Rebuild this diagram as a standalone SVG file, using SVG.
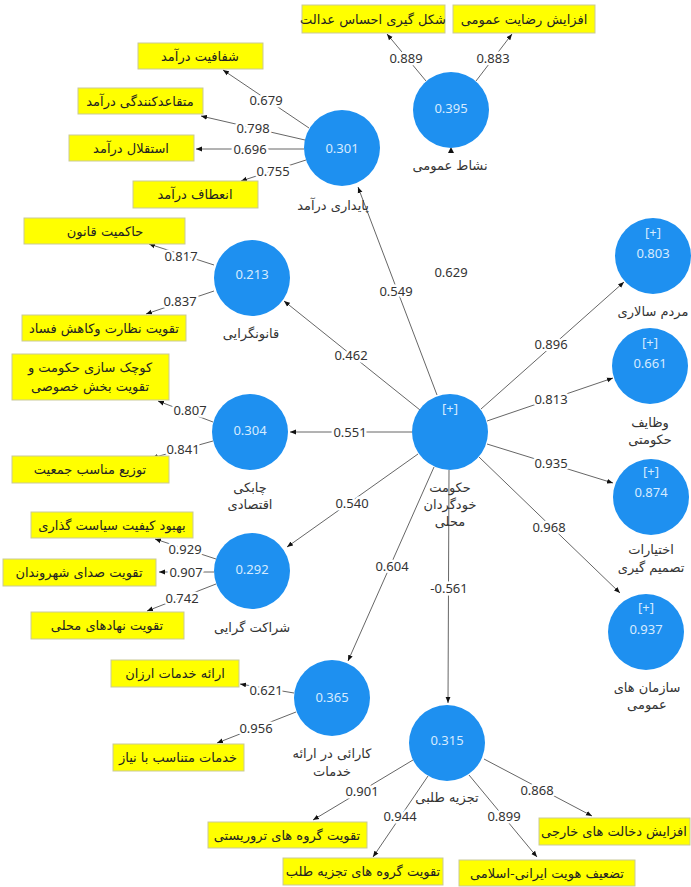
<svg xmlns="http://www.w3.org/2000/svg" width="691" height="887" viewBox="0 0 691 887">
<style>
.c{fill:#1e90f0}
.v{font-family:"Noto Sans","DejaVu Sans",sans-serif;font-size:13px;fill:#d6ebff;text-anchor:middle;dominant-baseline:central}
.b{fill:#ffff00;stroke:#c9c99a;stroke-width:1}
.bt{font-family:"DejaVu Sans",sans-serif;font-size:13px;fill:#222;text-anchor:middle;dominant-baseline:central;direction:rtl}
.nl{font-family:"DejaVu Sans",sans-serif;font-size:13px;fill:#333;text-anchor:middle;dominant-baseline:central;direction:rtl}
.ln{stroke:#555;stroke-width:0.9;fill:none;marker-end:url(#ah)}
.w{font-family:"Noto Sans","DejaVu Sans",sans-serif;font-size:13px;fill:#333;text-anchor:middle;dominant-baseline:central;paint-order:stroke;stroke:#fff;stroke-width:5px;stroke-linejoin:round}
</style>
<defs>
<marker id="ah" viewBox="0 0 10 10" refX="10" refY="5" markerWidth="6" markerHeight="6" markerUnits="userSpaceOnUse" orient="auto">
<path d="M0,1 L10,5 L0,9 Z" fill="#111"/>
</marker>
</defs>
<rect width="691" height="887" fill="#fff"/>

<g id="connectors">
<line class="ln" x1="437" y1="395" x2="358" y2="187"/>
<line class="ln" x1="420" y1="410" x2="284" y2="301"/>
<line class="ln" x1="412" y1="432" x2="290" y2="432"/>
<line class="ln" x1="418" y1="454" x2="287" y2="547"/>
<line class="ln" x1="434" y1="467" x2="348" y2="661"/>
<line class="ln" x1="449" y1="470" x2="448" y2="703"/>
<line class="ln" x1="481" y1="409" x2="624" y2="282"/>
<line class="ln" x1="487" y1="421" x2="613" y2="378"/>
<line class="ln" x1="487" y1="444" x2="613" y2="483"/>
<line class="ln" x1="479" y1="457" x2="620" y2="593"/>
<path d="M448,153 L451,147 L454,153 Z" fill="#111"/>

<line class="ln" x1="309" y1="128" x2="223" y2="70"/>
<line class="ln" x1="305" y1="140" x2="201" y2="116"/>
<line class="ln" x1="304" y1="149" x2="196" y2="149"/>
<line class="ln" x1="306" y1="160" x2="241" y2="181"/>
<line class="ln" x1="426" y1="81" x2="387" y2="34"/>
<line class="ln" x1="476" y1="81" x2="512" y2="34"/>
<line class="ln" x1="214" y1="265" x2="149" y2="244"/>
<line class="ln" x1="214" y1="291" x2="146" y2="314"/>
<line class="ln" x1="213" y1="422" x2="158" y2="401"/>
<line class="ln" x1="213" y1="441" x2="152" y2="458"/>
<line class="ln" x1="216" y1="559" x2="155" y2="539"/>
<line class="ln" x1="214" y1="572" x2="159" y2="572"/>
<line class="ln" x1="216" y1="584" x2="147" y2="611"/>
<line class="ln" x1="294" y1="693" x2="240" y2="684"/>
<line class="ln" x1="296" y1="712" x2="217" y2="743"/>
<line class="ln" x1="413" y1="760" x2="313" y2="820"/>
<line class="ln" x1="428" y1="776" x2="373" y2="857"/>
<line class="ln" x1="469" y1="775" x2="537" y2="857"/>
<line class="ln" x1="484" y1="759" x2="592" y2="816"/>

<text class="w" x="396" y="291">0.549</text>
<text class="w" x="451" y="272">0.629</text>
<text class="w" x="351" y="355">0.462</text>
<text class="w" x="350" y="432">0.551</text>
<text class="w" x="352" y="503">0.540</text>
<text class="w" x="392" y="566">0.604</text>
<text class="w" x="449" y="588">-0.561</text>
<text class="w" x="551" y="344">0.896</text>
<text class="w" x="551" y="399">0.813</text>
<text class="w" x="551" y="463">0.935</text>
<text class="w" x="549" y="527">0.968</text>
<text class="w" x="266" y="100">0.679</text>
<text class="w" x="253" y="128">0.798</text>
<text class="w" x="250" y="149">0.696</text>
<text class="w" x="273" y="171">0.755</text>
<text class="w" x="406" y="58">0.889</text>
<text class="w" x="493" y="58">0.883</text>
<text class="w" x="181" y="256">0.817</text>
<text class="w" x="180" y="301">0.837</text>
<text class="w" x="190" y="410">0.807</text>
<text class="w" x="183" y="449">0.841</text>
<text class="w" x="185" y="549">0.929</text>
<text class="w" x="186" y="572">0.907</text>
<text class="w" x="182" y="598">0.742</text>
<text class="w" x="266" y="690">0.621</text>
<text class="w" x="256" y="728">0.956</text>
<text class="w" x="362" y="791">0.901</text>
<text class="w" x="400" y="816">0.944</text>
<text class="w" x="504" y="816">0.899</text>
<text class="w" x="537" y="790">0.868</text>
</g>

<g id="n-central"><circle class="c" cx="450" cy="432" r="38"/><text class="v" x="450" y="408">[+]</text>
<text class="nl" x="450" y="487">حکومت</text><text class="nl" x="450" y="504">خودگردان</text><text class="nl" x="450" y="521">محلی</text></g>
<g id="n-paydari"><circle class="c" cx="342" cy="148" r="38"/><text class="v" x="342" y="148">0.301</text><text class="nl" x="333" y="205">پایداری درآمد</text></g>
<g id="n-neshat"><circle class="c" cx="451" cy="110" r="38"/><text class="v" x="451" y="108">0.395</text><text class="nl" x="450" y="165">نشاط عمومی</text></g>
<g id="n-ghanoon"><circle class="c" cx="252" cy="278" r="38"/><text class="v" x="252" y="274">0.213</text><text class="nl" x="251" y="333">قانونگرایی</text></g>
<g id="n-chaboki"><circle class="c" cx="250" cy="432" r="38"/><text class="v" x="250" y="430">0.304</text><text class="nl" x="250" y="487">چابکی</text><text class="nl" x="250" y="504">اقتصادی</text></g>
<g id="n-sherakat"><circle class="c" cx="252" cy="571" r="38"/><text class="v" x="252" y="569">0.292</text><text class="nl" x="252" y="627">شراکت گرایی</text></g>
<g id="n-karaei"><circle class="c" cx="332" cy="698" r="38"/><text class="v" x="332" y="697">0.365</text><text class="nl" x="332" y="753">کارائی در ارائه</text><text class="nl" x="332" y="771">خدمات</text></g>
<g id="n-tajzie"><circle class="c" cx="447" cy="743" r="38"/><text class="v" x="447" y="740">0.315</text><text class="nl" x="447" y="797">تجزیه طلبی</text></g>
<g id="n-mardom"><circle class="c" cx="653" cy="256" r="38"/><text class="v" x="653" y="232">[+]</text><text class="v" x="653" y="253">0.803</text><text class="nl" x="653" y="311">مردم سالاری</text></g>
<g id="n-vazayef"><circle class="c" cx="650" cy="366" r="38"/><text class="v" x="650" y="342">[+]</text><text class="v" x="650" y="363">0.661</text><text class="nl" x="650" y="422">وظایف</text><text class="nl" x="650" y="439">حکومتی</text></g>
<g id="n-ekhtiarat"><circle class="c" cx="651" cy="497" r="38"/><text class="v" x="651" y="471">[+]</text><text class="v" x="651" y="492">0.874</text><text class="nl" x="651" y="549">اختیارات</text><text class="nl" x="651" y="567">تصمیم گیری</text></g>
<g id="n-sazman"><circle class="c" cx="646" cy="632" r="38"/><text class="v" x="646" y="607">[+]</text><text class="v" x="646" y="629">0.937</text><text class="nl" x="647" y="687">سازمان های</text><text class="nl" x="647" y="704">عمومی</text></g>

<g id="i-shafafiat"><rect class="b" x="138" y="43" width="125" height="26"/><text class="bt" x="200" y="56">شفافیت درآمد</text></g>
<g id="i-moteghaed"><rect class="b" x="78" y="88" width="125" height="26"/><text class="bt" x="140" y="101">متقاعدکنندگی درآمد</text></g>
<g id="i-esteghlal"><rect class="b" x="69" y="135" width="125" height="26"/><text class="bt" x="131" y="148">استقلال درآمد</text></g>
<g id="i-enetaf"><rect class="b" x="133" y="181" width="125" height="27"/><text class="bt" x="195" y="194">انعطاف درآمد</text></g>
<g id="i-hakemiat"><rect class="b" x="24" y="218" width="161" height="26"/><text class="bt" x="105" y="231">حاکمیت قانون</text></g>
<g id="i-nezarat"><rect class="b" x="22" y="315" width="164" height="26"/><text class="bt" x="104" y="328">تقویت نظارت وکاهش فساد</text></g>
<g id="i-kuchak"><rect class="b" x="12" y="354" width="157" height="46"/><text class="bt" x="90" y="367">کوچک سازی حکومت و</text><text class="bt" x="90" y="386">تقویت بخش خصوصی</text></g>
<g id="i-tozi"><rect class="b" x="12" y="456" width="157" height="27"/><text class="bt" x="90" y="469">توزیع مناسب جمعیت</text></g>
<g id="i-behbood"><rect class="b" x="31" y="512" width="162" height="26"/><text class="bt" x="112" y="525">بهبود کیفیت سیاست گذاری</text></g>
<g id="i-seda"><rect class="b" x="3" y="559" width="153" height="27"/><text class="bt" x="79" y="572">تقویت صدای شهروندان</text></g>
<g id="i-nahad"><rect class="b" x="31" y="612" width="153" height="27"/><text class="bt" x="107" y="625">تقویت نهادهای محلی</text></g>
<g id="i-arzan"><rect class="b" x="111" y="660" width="128" height="27"/><text class="bt" x="175" y="673">ارائه خدمات ارزان</text></g>
<g id="i-motenaseb"><rect class="b" x="113" y="744" width="131" height="27"/><text class="bt" x="178" y="757">خدمات متناسب با نیاز</text></g>
<g id="i-terror"><rect class="b" x="208" y="822" width="159" height="26"/><text class="bt" x="287" y="835">تقویت گروه های تروریستی</text></g>
<g id="i-tajzietalab"><rect class="b" x="283" y="858" width="160" height="27"/><text class="bt" x="363" y="871">تقویت گروه های تجزیه طلب</text></g>
<g id="i-hoviat"><rect class="b" x="459" y="860" width="176" height="26"/><text class="bt" x="547" y="873">تضعیف هویت ایرانی-اسلامی</text></g>
<g id="i-dekhalat"><rect class="b" x="539" y="818" width="151" height="27"/><text class="bt" x="614" y="831">افزایش دخالت های خارجی</text></g>
<g id="i-edalat"><rect class="b" x="302" y="5" width="143" height="28"/><text class="bt" x="373" y="19">شکل گیری احساس عدالت</text></g>
<g id="i-rezayat"><rect class="b" x="453" y="5" width="142" height="28"/><text class="bt" x="524" y="19">افزایش رضایت عمومی</text></g>
</svg>
